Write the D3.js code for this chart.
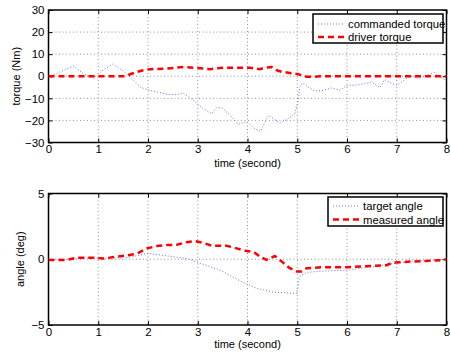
<!DOCTYPE html>
<html><head><meta charset="utf-8">
<script src="https://cdn.jsdelivr.net/npm/d3@7"></script>
<style>body{margin:0;background:#fff}svg{display:block}text{font-family:"Liberation Sans",Arial,sans-serif;fill:#000}</style>
</head><body><svg id="c" width="451" height="356"></svg>
<script>
const xTicks = [0,1,2,3,4,5,6,7,8];
const torqueTicks = [-30,-20,-10,0,10,20,30];
const angleTicks = [-5,0,5];

const cmdTorqueT = [0,0.03,0.3,0.5,0.7,0.9,1.07,1.29,1.5,1.71,1.84,1.98,2.18,2.38,2.58,2.71,2.91,3.11,3.28,3.38,3.48,3.65,3.82,3.98,4.02,4.15,4.26,4.35,4.42,4.52,4.65,4.82,4.95,5.02,5.05,5.12,5.22,5.36,5.52,5.69,5.86,5.99,6.16,6.36,6.49,6.66,6.76,6.9,7.0,7.13,7.26,7.46,7.66,7.76,7.87,8.0];
const cmdTorqueV = [0,-0.3,2.7,4.7,1.2,-1,2.4,5.5,2.4,-1.8,-4.9,-6,-7.1,-8.2,-8.3,-7.6,-10.9,-14.7,-17,-14.2,-14.2,-17.7,-21.8,-20.5,-21.2,-23.8,-25,-20.8,-17.7,-19.2,-21.2,-19.2,-17,-10.9,-4.9,-3,-4.9,-6.7,-6.4,-5.3,-6.4,-4.1,-4.1,-3.3,-2.6,-5.1,-1.5,-3.3,-4.1,-2.1,0,-1,0.9,1.7,-0.3,-2];
const drvTorqueT = [0,1.55,1.64,1.84,2.04,2.38,2.71,2.98,3.25,3.51,3.85,4.05,4.25,4.35,4.49,4.59,4.69,4.85,5.02,5.19,5.3,5.45,8];
const drvTorqueV = [0,0,0.9,2.4,3.2,3.5,4.2,3.8,3.2,3.9,3.8,3.8,3.2,3.9,4.2,2.7,2.0,1.5,0.9,-0.2,-0.3,0,0];

const tgtAngleT = [0,0.5,0.7,1.5,1.7,1.98,2.3,2.78,2.92,3.2,3.45,3.85,4.18,4.52,4.99,5.05,5.19,5.52,5.99,6.52,6.92,7.32,7.93,8];
const tgtAngleV = [0,0,0.1,0.1,0.2,0.45,0.3,0.05,-0.13,-0.5,-0.83,-1.65,-2.2,-2.5,-2.6,-1.3,-1.0,-0.9,-0.83,-0.57,-0.33,-0.15,-0.03,0];
const msrAngleT = [0,0.37,0.57,0.9,1.1,1.37,1.57,1.78,1.98,2.18,2.38,2.58,2.78,2.95,3.11,3.28,3.58,3.78,3.98,4.12,4.25,4.38,4.55,4.69,4.85,4.99,5.08,5.19,5.52,5.99,6.52,6.79,6.93,7.32,7.93,8];
const msrAngleV = [-0.05,-0.05,0.12,0.12,0.05,0.2,0.28,0.43,0.83,1.0,1.08,1.1,1.3,1.38,1.25,1.03,1.03,0.83,0.63,0.57,0.2,-0.05,0.25,-0.18,-0.68,-0.93,-0.93,-0.68,-0.6,-0.6,-0.5,-0.45,-0.25,-0.17,-0.07,0];

const svg = d3.select("#c");
const x = d3.scaleLinear().domain([0,8]).range([48.5,446.5]);
const BLUE = "#6b6bff", RED = "#ff0000";
const fmt = d => d < 0 ? "\u2212" + Math.abs(d) : String(d);

function panel(top, bottom, domain, ticks, ylabel, series, legend, lg) {
  const y = d3.scaleLinear().domain(domain).range([bottom, top]);
  const g = svg.append("g");
  // grid
  g.selectAll(".gx").data(xTicks.slice(1,-1)).join("line")
    .attr("x1", d=>x(d)).attr("x2", d=>x(d)).attr("y1", top).attr("y2", bottom)
    .attr("stroke","#777").attr("stroke-width",0.8).attr("stroke-dasharray","1,2.5");
  g.selectAll(".gy").data(ticks.slice(1,-1)).join("line")
    .attr("y1", d=>y(d)).attr("y2", d=>y(d)).attr("x1", x(0)).attr("x2", x(8))
    .attr("stroke","#777").attr("stroke-width",0.8).attr("stroke-dasharray","1,2.5");
  // axes
  const xb = g.append("g").attr("transform",`translate(0,${bottom})`)
    .call(d3.axisBottom(x).tickValues(xTicks).tickSize(-4).tickPadding(2.5).tickFormat(fmt));
  const xt = g.append("g").attr("transform",`translate(0,${top})`)
    .call(d3.axisTop(x).tickValues(xTicks).tickSize(-4).tickFormat(""));
  const yl = g.append("g").attr("transform",`translate(${x(0)},0)`)
    .call(d3.axisLeft(y).tickValues(ticks).tickSize(-4).tickPadding(4).tickFormat(fmt));
  const yr = g.append("g").attr("transform",`translate(${x(8)},0)`)
    .call(d3.axisRight(y).tickValues(ticks).tickSize(-4).tickFormat(""));
  [xb,xt,yl,yr].forEach(a=>{
    a.select(".domain").remove();
    a.selectAll("line").attr("stroke","#000");
    a.selectAll("text").attr("font-size",11.5).attr("font-family","Liberation Sans, Arial, sans-serif");
  });
  g.append("rect").attr("x",x(0)).attr("y",top).attr("width",x(8)-x(0)).attr("height",bottom-top)
    .attr("fill","none").attr("stroke","#000").attr("stroke-width",1.5);
  // labels
  g.append("text").attr("x",(x(0)+x(8))/2).attr("y",bottom+lg.xly).attr("text-anchor","middle")
    .attr("font-size",11).text("time (second)");
  g.append("text").attr("transform",`translate(${lg.ylx},${(top+bottom)/2}) rotate(-90)`)
    .attr("text-anchor","middle").attr("font-size",11).text(ylabel);
  // series
  const clip = "clip"+Math.round(top);
  svg.append("clipPath").attr("id",clip).append("rect").attr("x",x(0)).attr("y",top-3).attr("width",x(8)-x(0)).attr("height",bottom-top+6);
  series.forEach(s=>{
    const line = d3.line().x((d,i)=>x(s.t[i])).y(d=>y(d));
    g.append("path").datum(s.v).attr("d",line).attr("fill","none")
      .attr("clip-path",`url(#${clip})`)
      .attr("stroke",s.color).attr("stroke-width",s.w).attr("stroke-dasharray",s.dash);
  });
  // legend
  const L = g.append("g");
  L.append("rect").attr("x",lg.x).attr("y",lg.y).attr("width",lg.w).attr("height",lg.h)
    .attr("fill","#fff").attr("stroke","#000").attr("stroke-width",1.5);
  legend.forEach((name,i)=>{
    const s = series[i], yy = lg.y + lg.r0 + i*lg.dy;
    L.append("line").attr("x1",lg.x+lg.s0).attr("x2",lg.x+lg.s1).attr("y1",yy).attr("y2",yy)
      .attr("stroke",s.color).attr("stroke-width",s.w).attr("stroke-dasharray",s.dash);
    L.append("text").attr("x",lg.x+lg.tx).attr("y",yy+4).attr("font-size",11.3).text(name);
  });
}

panel(10, 142.5, [-30,30], torqueTicks, "torque (Nm)",
  [{t:cmdTorqueT,v:cmdTorqueV,color:BLUE,w:1,dash:"1,2"},
   {t:drvTorqueT,v:drvTorqueV,color:RED,w:2.5,dash:"6,4"}],
  ["commanded torque","driver torque"],
  {x:313,y:14,w:130,h:29,r0:10,dy:13,s0:5,s1:32,tx:35,ylx:20,xly:24});

panel(193.5, 325, [-5,5], angleTicks, "angle (deg)",
  [{t:tgtAngleT,v:tgtAngleV,color:BLUE,w:1,dash:"1,2"},
   {t:msrAngleT,v:msrAngleV,color:RED,w:2.5,dash:"6,4"}],
  ["target angle","measured angle"],
  {x:328,y:197,w:115,h:29,r0:9,dy:13.5,s0:5,s1:32,tx:35,ylx:24,xly:23});
</script></body></html>
